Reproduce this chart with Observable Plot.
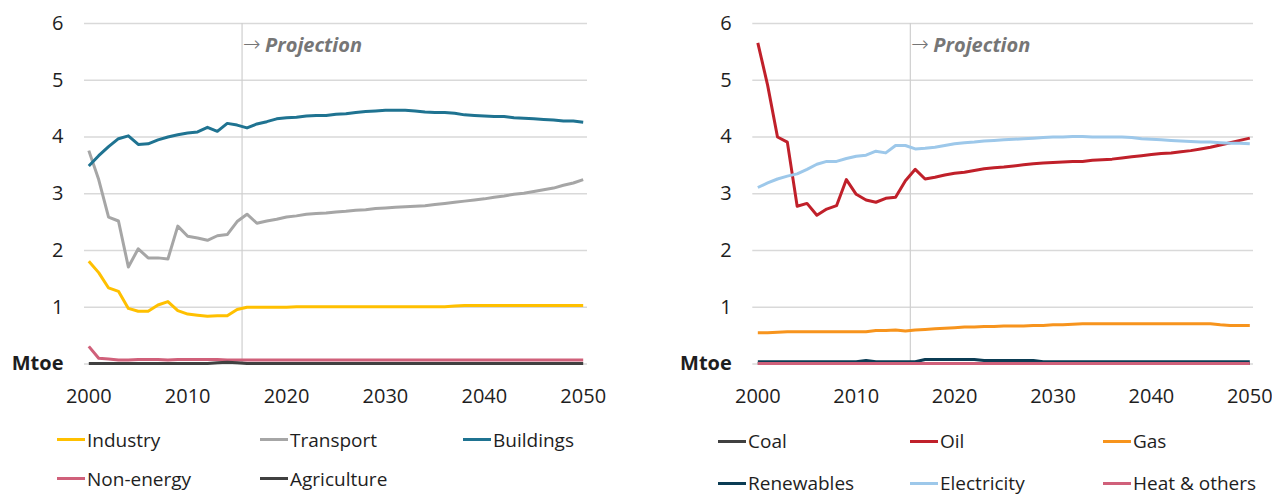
<!DOCTYPE html>
<html>
<head>
<meta charset="utf-8">
<script src="https://cdn.jsdelivr.net/npm/d3@7"></script>
<script src="https://cdn.jsdelivr.net/npm/@observablehq/plot@0.6"></script>
<style>
  html, body { margin: 0; padding: 0; background: #fff; }
  #wrap { position: relative; width: 1272px; height: 495px; font-family: "Open Sans", sans-serif; color: #1e1e1e; overflow: hidden; }
  .chart { position: absolute; top: 0; }
  .legend { position: absolute; display: grid; font-size: 19px; }
  .item { display: flex; align-items: center; white-space: nowrap; line-height: 24px; }
  .sw { display: inline-block; width: 28px; height: 3px; margin-right: 2px; }
</style>
</head>
<body>
<div id="wrap">
  <div id="left" class="chart" style="left:0px"></div>
  <div id="right" class="chart" style="left:640px"></div>
  <div id="legL" class="legend" style="left:57px; top:420px; grid-template-columns: 203px 203px 203px; grid-auto-rows: 39px;"></div>
  <div id="legR" class="legend" style="left:718px; top:420px; grid-template-columns: 192px 193px 193px; grid-auto-rows: 42px;"></div>
</div>
<script>
const years = [2000,2001,2002,2003,2004,2005,2006,2007,2008,2009,2010,2011,2012,2013,2014,2015,2016,2017,2018,2019,2020,2021,2022,2023,2024,2025,2026,2027,2028,2029,2030,2031,2032,2033,2034,2035,2036,2037,2038,2039,2040,2041,2042,2043,2044,2045,2046,2047,2048,2049,2050];
const xTicks = [2000, 2010, 2020, 2030, 2040, 2050];
const yTicks = [0, 1, 2, 3, 4, 5, 6];
const projectionYear = 2015.5;
const projectionArrow = "→";
const projectionLabel = "Projection";
const unitLabel = "Mtoe";

// Left chart: by sector
const sectorNames = ["Industry", "Transport", "Buildings", "Non-energy", "Agriculture"];
const sectorColors = ["#FFC000", "#A6A6A6", "#1F7391", "#D0607A", "#404040"];
const industry = [1.81,1.61,1.34,1.28,0.98,0.93,0.93,1.04,1.10,0.94,0.88,0.86,0.84,0.85,0.85,0.96,1.00,1.00,1.00,1.00,1.00,1.01,1.01,1.01,1.01,1.01,1.01,1.01,1.01,1.01,1.01,1.01,1.01,1.01,1.01,1.01,1.01,1.02,1.03,1.03,1.03,1.03,1.03,1.03,1.03,1.03,1.03,1.03,1.03,1.03,1.03];
const transport = [3.76,3.25,2.59,2.52,1.71,2.03,1.87,1.87,1.85,2.43,2.25,2.22,2.18,2.26,2.28,2.51,2.64,2.48,2.52,2.55,2.59,2.61,2.64,2.65,2.66,2.68,2.69,2.71,2.72,2.74,2.75,2.76,2.77,2.78,2.79,2.81,2.83,2.85,2.87,2.89,2.91,2.94,2.96,2.99,3.01,3.04,3.07,3.10,3.15,3.19,3.25];
const buildings = [3.49,3.67,3.83,3.97,4.02,3.87,3.88,3.95,4.00,4.04,4.07,4.09,4.17,4.10,4.24,4.21,4.16,4.23,4.27,4.32,4.34,4.35,4.37,4.38,4.38,4.40,4.41,4.43,4.45,4.46,4.47,4.47,4.47,4.46,4.44,4.43,4.43,4.42,4.39,4.38,4.37,4.36,4.36,4.34,4.33,4.32,4.31,4.30,4.28,4.28,4.26];
const nonEnergy = [0.31,0.10,0.09,0.07,0.07,0.08,0.08,0.08,0.07,0.08,0.08,0.08,0.08,0.08,0.07,0.07,0.07,0.07,0.07,0.07,0.07,0.07,0.07,0.07,0.07,0.07,0.07,0.07,0.07,0.07,0.07,0.07,0.07,0.07,0.07,0.07,0.07,0.07,0.07,0.07,0.07,0.07,0.07,0.07,0.07,0.07,0.07,0.07,0.07,0.07,0.07];
const agriculture = [0.01,0.01,0.01,0.01,0.01,0.01,0.01,0.01,0.01,0.01,0.01,0.01,0.01,0.02,0.03,0.02,0.01,0.01,0.01,0.01,0.01,0.01,0.01,0.01,0.01,0.01,0.01,0.01,0.01,0.01,0.01,0.01,0.01,0.01,0.01,0.01,0.01,0.01,0.01,0.01,0.01,0.01,0.01,0.01,0.01,0.01,0.01,0.01,0.01,0.01,0.01];

// Right chart: by fuel
const fuelNames = ["Coal", "Oil", "Gas", "Renewables", "Electricity", "Heat & others"];
const fuelColors = ["#404040", "#C0202A", "#F7941D", "#0B3C54", "#9DC8EA", "#D0607A"];
const coal = [0.01,0.01,0.01,0.01,0.01,0.01,0.01,0.01,0.01,0.01,0.01,0.01,0.01,0.01,0.01,0.01,0.01,0.01,0.01,0.01,0.01,0.01,0.01,0.01,0.01,0.01,0.01,0.01,0.01,0.01,0.01,0.01,0.01,0.01,0.01,0.01,0.01,0.01,0.01,0.01,0.01,0.01,0.01,0.01,0.01,0.01,0.01,0.01,0.01,0.01,0.01];
const oil = [5.66,4.91,4.00,3.91,2.78,2.83,2.62,2.73,2.79,3.25,2.99,2.89,2.85,2.92,2.94,3.23,3.43,3.26,3.29,3.33,3.36,3.38,3.41,3.44,3.46,3.47,3.49,3.51,3.53,3.54,3.55,3.56,3.57,3.57,3.59,3.60,3.61,3.63,3.65,3.67,3.69,3.71,3.72,3.74,3.76,3.79,3.82,3.86,3.90,3.94,3.98];
const gas = [0.55,0.55,0.56,0.57,0.57,0.57,0.57,0.57,0.57,0.57,0.57,0.57,0.59,0.59,0.60,0.58,0.60,0.61,0.62,0.63,0.64,0.65,0.65,0.66,0.66,0.67,0.67,0.67,0.68,0.68,0.69,0.69,0.70,0.71,0.71,0.71,0.71,0.71,0.71,0.71,0.71,0.71,0.71,0.71,0.71,0.71,0.71,0.69,0.68,0.68,0.68];
const renewables = [0.04,0.04,0.04,0.04,0.04,0.04,0.04,0.04,0.04,0.04,0.04,0.06,0.04,0.04,0.04,0.04,0.04,0.08,0.08,0.08,0.08,0.08,0.08,0.06,0.06,0.06,0.06,0.06,0.06,0.04,0.04,0.04,0.04,0.04,0.04,0.04,0.04,0.04,0.04,0.04,0.04,0.04,0.04,0.04,0.04,0.04,0.04,0.04,0.04,0.04,0.04];
const electricity = [3.11,3.19,3.26,3.31,3.35,3.43,3.52,3.57,3.57,3.62,3.66,3.68,3.75,3.72,3.85,3.85,3.79,3.80,3.82,3.85,3.88,3.90,3.91,3.93,3.94,3.95,3.96,3.97,3.98,3.99,4.00,4.00,4.01,4.01,4.00,4.00,4.00,4.00,3.99,3.97,3.96,3.95,3.94,3.93,3.92,3.91,3.91,3.90,3.89,3.89,3.88];
const heatOthers = [0.01,0.01,0.01,0.01,0.01,0.01,0.01,0.01,0.01,0.01,0.01,0.01,0.01,0.01,0.01,0.01,0.01,0.01,0.01,0.01,0.01,0.01,0.01,0.01,0.01,0.01,0.01,0.01,0.01,0.01,0.01,0.01,0.01,0.01,0.01,0.01,0.01,0.01,0.01,0.01,0.01,0.01,0.01,0.01,0.01,0.01,0.01,0.01,0.01,0.01,0.01];

const sectorValues = [industry, transport, buildings, nonEnergy, agriculture];
const fuelValues = [coal, oil, gas, renewables, electricity, heatOthers];

function tidy(names, valueLists) {
  return names.flatMap((name, k) => years.map((year, i) => ({ name, year, value: valueLists[k][i] })));
}

function makeChart(names, colors, valueLists, opts) {
  const data = tidy(names, valueLists);
  const svg = Plot.plot({
    width: opts.width,
    height: 420,
    marginLeft: opts.marginLeft,
    marginRight: opts.marginRight,
    marginTop: 23,
    marginBottom: 56.5,
    style: { fontFamily: "'Open Sans', sans-serif", fontSize: "20px", color: "#1e1e1e", background: "#fff", overflow: "visible" },
    x: { domain: opts.xDomain, ticks: xTicks, tickFormat: d => String(d), tickSize: 0, tickPadding: 25, label: null },
    y: { domain: [0, 6], ticks: yTicks, tickSize: 0, tickPadding: 21, label: null, tickFormat: d => d === 0 ? unitLabel : String(d) },
    color: { domain: names, range: colors },
    marks: [
      Plot.ruleY(yTicks, { stroke: "#d9d9d9", strokeWidth: 1.5 }),
      Plot.ruleX([projectionYear], { stroke: "#cfcfcf", strokeWidth: 1.2 }),
      Plot.text([projectionArrow], { x: () => projectionYear, text: d => d, frameAnchor: "top", lineAnchor: "middle", dy: 21, dx: 1, textAnchor: "start", fill: "#767676", fontSize: 21, fontFamily: "'DejaVu Sans', sans-serif", fontWeight: 300 }),
      Plot.text([projectionLabel], { x: () => projectionYear, text: d => d, frameAnchor: "top", lineAnchor: "middle", dy: 22, dx: 23, textAnchor: "start", fill: "#767676", fontSize: 20, fontWeight: "bold", fontStyle: "italic" }),
      Plot.line(data, { x: "year", y: "value", z: "name", stroke: "name", strokeWidth: 3, strokeLinejoin: "round", strokeLinecap: "butt" })
    ]
  });
  d3.select(svg).selectAll("text").filter(function () { return this.textContent === unitLabel; }).attr("font-weight", "bold");
  return svg;
}

document.getElementById("left").append(makeChart(sectorNames, sectorColors, sectorValues, {
  width: 640, marginLeft: 84, marginRight: 53, xDomain: [1999.565, 2050.435]
}));
document.getElementById("right").append(makeChart(fuelNames, fuelColors, fuelValues, {
  width: 632, marginLeft: 112.3, marginRight: 19, xDomain: [1999.49, 2050.376]
}));

function legend(id, names, colors) {
  const el = document.getElementById(id);
  names.forEach((n, i) => {
    const item = document.createElement("div");
    item.className = "item";
    const sw = document.createElement("span");
    sw.className = "sw";
    sw.style.background = colors[i];
    const t = document.createElement("span");
    t.textContent = n;
    item.append(sw, t);
    el.append(item);
  });
}
legend("legL", sectorNames, sectorColors);
legend("legR", fuelNames, fuelColors);
</script>
</body>
</html>
